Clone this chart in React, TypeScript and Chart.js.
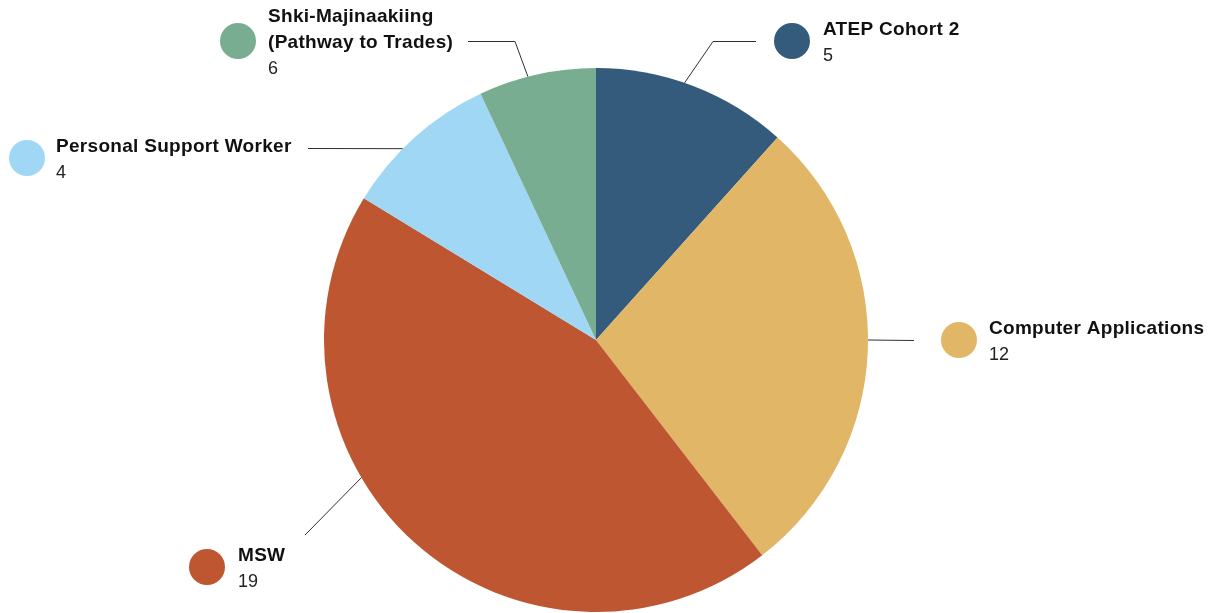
import React, { useEffect, useRef } from "react";
import { Chart, registerables } from "chart.js";

Chart.register(...registerables);

// ---- data ----
const categories = [
  "ATEP Cohort 2",
  "Computer Applications",
  "MSW",
  "Personal Support Worker",
  "Shki-Majinaakiing (Pathway to Trades)",
];
// slice sizes as drawn in the reference
const sliceValues = [5, 12, 19, 4, 3];
// value text shown next to each label in the reference
const valueLabels = ["5", "12", "19", "4", "6"];
// label title lines
const titleLines = [
  ["ATEP Cohort 2"],
  ["Computer Applications"],
  ["MSW"],
  ["Personal Support Worker"],
  ["Shki-Majinaakiing", "(Pathway to Trades)"],
];

// ---- styles / layout ----
const colors = ["#345b7c", "#e1b666", "#be5631", "#a0d7f4", "#78ad91"];
const LINE_COLOR = "#2a303c";
const TEXT_COLOR = "#111111";
const FONT = "'Liberation Sans', Arial, sans-serif";

// label layout: marker circle centre, text x, leader start angle on pie (deg clockwise from top), leader points after start
const labelLayout = [
  { cx: 792, cy: 41, tx: 823, angle: 19, pts: [[713, 41.5], [756, 41.5]] },
  { cx: 959, cy: 340, tx: 989, angle: 90, pts: [[914, 340.5]] },
  { cx: 207, cy: 567, tx: 238, angle: 239.6, pts: [[305, 535]] },
  { cx: 27, cy: 158, tx: 56, angle: 314.7, pts: [[308, 148.5]] },
  { cx: 238, cy: 41, tx: 268, angle: 345.5, pts: [[515, 41.5], [468, 41.5]] },
];
const MARKER_R = 18;
const LINE_H = 26.5;
const TEXT_SHIFT = 2;

const labelPlugin = {
  id: "pieLabels",
  afterDraw(chart: any) {
    const ctx = chart.ctx as CanvasRenderingContext2D;
    const meta = chart.getDatasetMeta(0);
    const arc0 = meta.data[0] as any;
    const cx0 = arc0.x;
    const cy0 = arc0.y;
    const r = arc0.outerRadius;
    ctx.save();
    labelLayout.forEach((lay, i) => {
      // leader line
      const a = (lay.angle * Math.PI) / 180;
      const sx = cx0 + r * Math.sin(a);
      const sy = cy0 - r * Math.cos(a);
      ctx.beginPath();
      ctx.strokeStyle = LINE_COLOR;
      ctx.lineWidth = 1;
      ctx.moveTo(sx, sy);
      lay.pts.forEach((p) => ctx.lineTo(p[0], p[1]));
      ctx.stroke();
      // marker
      ctx.beginPath();
      ctx.fillStyle = colors[i];
      ctx.arc(lay.cx, lay.cy, MARKER_R, 0, Math.PI * 2);
      ctx.fill();
      // text block
      const lines = titleLines[i];
      const total = lines.length + 1;
      const top = lay.cy - ((total - 1) * LINE_H) / 2 + TEXT_SHIFT;
      ctx.fillStyle = TEXT_COLOR;
      ctx.textBaseline = "middle";
      ctx.textAlign = "left";
      ctx.font = `bold 19px ${FONT}`;
      (ctx as any).letterSpacing = "0.3px";
      lines.forEach((ln, k) => {
        ctx.fillText(ln, lay.tx, top + k * LINE_H);
      });
      (ctx as any).letterSpacing = "0px";
      ctx.font = `18px ${FONT}`;
      ctx.fillStyle = "#222222";
      ctx.fillText(valueLabels[i], lay.tx, top + lines.length * LINE_H);
    });
    ctx.restore();
  },
};

export default function App() {
  const ref = useRef<HTMLCanvasElement | null>(null);
  useEffect(() => {
    if (!ref.current) return;
    const chart = new Chart(ref.current, {
      type: "pie",
      data: {
        labels: categories,
        datasets: [
          {
            data: sliceValues,
            backgroundColor: colors,
            borderWidth: 0,
            hoverOffset: 0,
          },
        ],
      },
      options: {
        responsive: false,
        animation: false,
        devicePixelRatio: 1,
        layout: { padding: { left: 324, right: 350, top: 68, bottom: 1 } },
        plugins: {
          legend: { display: false },
          tooltip: { enabled: false },
        },
        events: [],
      },
      plugins: [labelPlugin],
    });
    return () => chart.destroy();
  }, []);
  return (
    <div style={{ position: "absolute", left: 0, top: 0, width: 1218, height: 613, background: "#fff" }}>
      <canvas ref={ref} width={1218} height={613} style={{ display: "block" }} />
    </div>
  );
}
